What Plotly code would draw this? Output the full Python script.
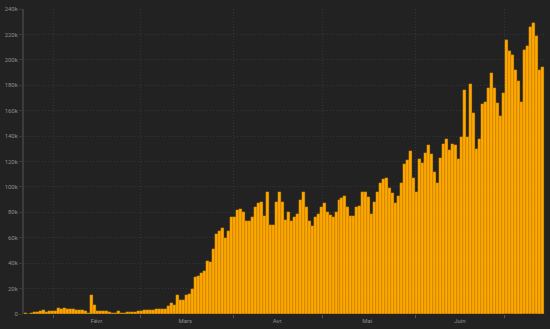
import pandas as pd
import plotly.graph_objects as go

# Daily new cases (thousands), 22 Jan 2020 -> 13 Jul 2020
jan = [0.5, 0.1, 0.8, 1.3, 1.3, 2.0, 3.0, 1.4, 2.2, 2.1]
feb = [2.7, 5.0, 3.7, 4.4, 4.2, 3.8, 3.8, 3.3, 3.2, 3.0, 2.3, 0.6, 15.2, 6.7, 2.6,
       2.6, 2.4, 2.0, 1.2, 1.1, 1.0, 2.0, 0.9, 0.7, 1.2, 1.5, 1.8, 1.9, 2.4]
mar = [2.5, 2.8, 3.0, 3.2, 3.5, 4.0, 4.0, 3.8, 4.2, 6.0, 8.5, 7.0, 15, 11, 11,
       15, 16, 20, 29, 30, 32, 34, 42, 41, 51, 63, 65, 68, 60, 65, 76]
apr = [76, 82, 83, 80, 73, 73, 76, 84, 87, 88, 77, 96, 70, 70, 88,
       96, 88, 74, 80, 73, 76, 79, 90, 96, 84, 73, 69, 76, 79, 84]
may = [87, 80, 78, 76, 80, 90, 91, 93, 84, 77, 77, 84, 85, 96, 96, 92,
       79, 88, 96, 103, 106, 107, 99, 95, 87, 93, 103, 118, 121, 128, 107]
jun = [96, 122, 119, 127, 133, 126, 112, 103, 123, 134, 138, 129, 134, 133, 122,
       139, 176, 139, 181, 158, 130, 138, 165, 167, 178, 190, 178, 166, 156, 174]
jul = [216, 207, 204, 192, 183, 167, 208, 211, 226, 229, 219, 192, 194]

values = [v * 1000 for v in jan + feb + mar + apr + may + jun + jul]
dates = pd.date_range("2020-01-22 12:00", periods=len(values), freq="D")

month_starts = ["2020-02-01", "2020-03-01", "2020-04-01", "2020-05-01", "2020-06-01", "2020-07-01"]
label_pos = ["2020-02-15 12:00", "2020-03-16", "2020-04-16", "2020-05-16", "2020-06-16"]
month_labels = ["Févr.", "Mars", "Avr.", "Mai", "Juin"]

y_ticks = list(range(0, 240001, 20000))
y_labels = ["0"] + [f"{v // 1000}k" for v in y_ticks[1:]]

grid = "#353535"

fig = go.Figure(go.Bar(
    x=dates, y=values,
    marker=dict(color="#FFA800", line=dict(color="#B37400", width=0.3)),
))

fig.update_layout(
    width=550, height=329,
    margin=dict(l=20, r=5, t=5, b=13),
    paper_bgcolor="#222222", plot_bgcolor="#222222",
    bargap=0, showlegend=False,
    font=dict(family="Roboto, sans-serif", size=6, color="#8c8c8c"),
    xaxis=dict(
        range=["2020-01-22", "2020-07-14 12:00"],
        tickmode="array", tickvals=label_pos, ticktext=month_labels,
        ticks="", showgrid=False, zeroline=False, showline=False,
        tickfont=dict(size=6, color="#8c8c8c"), ticklabelstandoff=2,
        minor=dict(tickmode="array", tickvals=month_starts, ticks="outside",
                   ticklen=3, tickcolor="#555555", showgrid=True,
                   gridcolor=grid, griddash="1px,2px", gridwidth=1),
    ),
    yaxis=dict(
        range=[0, 240000], tickmode="array", tickvals=y_ticks, ticktext=y_labels,
        showgrid=True, gridcolor=grid, griddash="1px,2px", gridwidth=1,
        zeroline=False, showline=True, linecolor="#3c3c3c", linewidth=2,
        ticks="outside", ticklen=3, tickcolor="#3a3a3a",
        tickfont=dict(size=6, color="#8c8c8c"),
    ),
)

fig.write_html("out.html")
